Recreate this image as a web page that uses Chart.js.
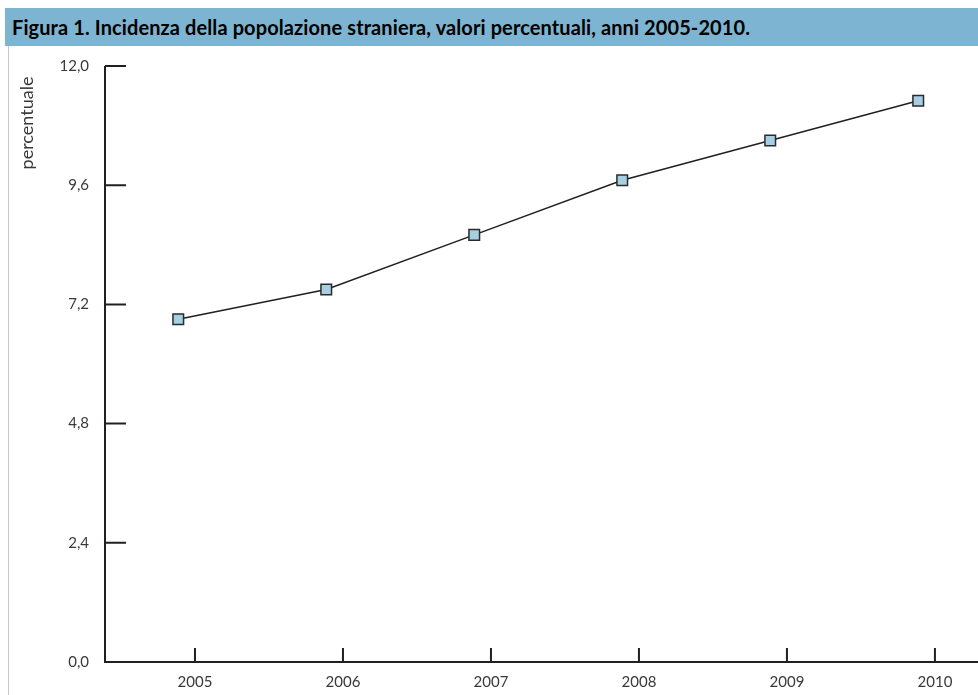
<!DOCTYPE html>
<html>
<head>
<meta charset="utf-8">
<script src="https://cdn.jsdelivr.net/npm/chart.js@4.4.0/dist/chart.umd.min.js"></script>
<style>
  html, body { margin: 0; padding: 0; background: #fff; }
  body { width: 978px; height: 695px; position: relative; overflow: hidden; }
  #titlebar {
    position: absolute; left: 5px; top: 8px; width: 973px; height: 38px;
    background: #7db4d1; font-family: Lato, sans-serif; font-weight: bold;
    font-size: 20px; letter-spacing: 0.1px; line-height: 38px; color: #000;
    padding-left: 7px; box-sizing: border-box; white-space: nowrap;
  }
  #leftline { position: absolute; left: 8px; top: 46px; width: 1px; bottom: 0; background: #c8c8c8; }
  #wrap { position: absolute; left: 0; top: 46px; width: 978px; height: 649px; }
</style>
</head>
<body>
<div id="titlebar">Figura 1. Incidenza della popolazione straniera, valori percentuali, anni 2005-2010.</div>
<div id="leftline"></div>
<div id="wrap"><canvas id="chart"></canvas></div>
<script>
// data
const years = [2005, 2006, 2007, 2008, 2009, 2010];
const incidenza = [6.9, 7.5, 8.6, 9.7, 10.5, 11.3];
const yTicks = [0, 2.4, 4.8, 7.2, 9.6, 12.0];
const yTitle = 'percentuale';

const fmt = v => v.toFixed(1).replace('.', ',');

// no extra room for the edge labels, the layout padding handles it
const noPad = s => { s.paddingTop = 0; s.paddingBottom = 0; s.paddingLeft = 0; s.paddingRight = 0; };

// draws the axis lines with the short inward ticks, plus the y title
const axisLines = {
  id: 'axisLines',
  beforeDatasetsDraw(chart) {
    const { ctx, chartArea: a, scales: { x, y } } = chart;
    ctx.save();
    ctx.strokeStyle = '#231f20';
    ctx.lineWidth = 2;
    ctx.beginPath();
    ctx.moveTo(a.left, a.top);
    ctx.lineTo(a.left, a.bottom);
    ctx.lineTo(a.right, a.bottom);
    y.ticks.forEach(t => {
      const py = y.getPixelForValue(t.value);
      ctx.moveTo(a.left, py);
      ctx.lineTo(a.left + 21, py);
    });
    x.ticks.forEach(t => {
      const px = x.getPixelForValue(t.value);
      ctx.moveTo(px, a.bottom);
      ctx.lineTo(px, a.bottom - 14);
    });
    ctx.stroke();

    // rotated axis title
    ctx.translate(27, a.top + 57);
    ctx.rotate(-Math.PI / 2);
    ctx.fillStyle = '#3a3a3a';
    ctx.font = '18px Lato';
    ctx.textAlign = 'center';
    ctx.textBaseline = 'middle';
    ctx.fillText(yTitle, 0, 0);
    ctx.restore();
  }
};

const ctx = document.getElementById('chart').getContext('2d');
new Chart(ctx, {
  type: 'line',
  data: {
    datasets: [{
      label: 'Incidenza',
      data: years.map((yr, i) => ({ x: yr, y: incidenza[i] })),
      xAxisID: 'xp',
      borderColor: '#231f20',
      borderWidth: 1.5,
      pointStyle: 'rect',
      pointRadius: 7.5,
      pointBackgroundColor: '#a6cfe4',
      pointBorderColor: '#2b2b2b',
      pointBorderWidth: 1.5,
      tension: 0
    }]
  },
  options: {
    responsive: true,
    maintainAspectRatio: false,
    animation: false,
    layout: { autoPadding: false, padding: { top: 20, left: 0, right: 0, bottom: 0 } },
    plugins: {
      legend: { display: false },
      tooltip: { enabled: false }
    },
    scales: {
      // visible axis with the year labels
      x: {
        type: 'linear',
        min: 2004.392,
        max: 2010.291,
        grid: { display: false, drawTicks: false },
        border: { display: false },
        afterBuildTicks: s => { s.ticks = years.map(v => ({ value: v })); },
        afterFit: s => { s.height = 33; noPad(s); },
        ticks: {
          padding: 11,
          color: '#3a3a3a',
          font: { family: 'Lato', size: 15 },
          callback: v => String(v)
        }
      },
      // hidden axis that places the points
      xp: {
        type: 'linear',
        display: false,
        min: 2004.505,
        max: 2010.404
      },
      y: {
        min: 0,
        max: 12,
        grid: { display: false, drawTicks: false },
        border: { display: false },
        afterBuildTicks: s => { s.ticks = yTicks.map(v => ({ value: v })); },
        afterFit: s => { s.width = 105; noPad(s); },
        ticks: {
          padding: 16,
          color: '#3a3a3a',
          font: { family: 'Lato', size: 15 },
          callback: v => fmt(v)
        }
      }
    }
  },
  plugins: [axisLines]
});
</script>
</body>
</html>
